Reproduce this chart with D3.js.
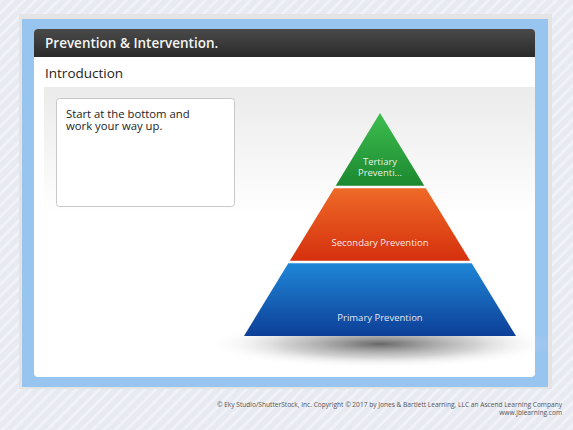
<!DOCTYPE html>
<html>
<head>
<meta charset="utf-8">
<script src="https://cdn.jsdelivr.net/npm/d3@7"></script>
<style>
  html, body { margin: 0; padding: 0; background: #e9ebf2; }
  svg { display: block; font-family: "Open Sans", "Noto Sans", sans-serif; }
</style>
</head>
<body>
<div id="chart"></div>
<script>
// pyramid tiers, bottom to top
const tiers = ["Primary", "Secondary", "Tertiary"];
const tierLabels = [["Primary Prevention"], ["Secondary Prevention"], ["Tertiary", "Preventi..."]];
const tierTop = ["#1f86d6", "#ee6a27", "#3dbe4f"];
const tierBottom = ["#0d3f98", "#d5300d", "#1d8830"];

const headerTitle = "Prevention & Intervention.";
const sectionTitle = "Introduction";
const noteLines = ["Start at the bottom and", "work your way up."];
const footerLines = [
  "\u00a9 Eky Studio/ShutterStock, Inc. Copyright \u00a9 2017 by Jones & Bartlett Learning, LLC an Ascend Learning Company",
  "www.jblearning.com"
];

const width = 573, height = 430;

const svg = d3.select("#chart").append("svg")
  .attr("width", width)
  .attr("height", height);

const defs = svg.append("defs");

// striped page background
const stripes = defs.append("pattern")
  .attr("id", "stripes")
  .attr("width", 8).attr("height", 8)
  .attr("patternUnits", "userSpaceOnUse")
  .attr("patternTransform", "rotate(45)");
stripes.append("rect").attr("width", 8).attr("height", 8).attr("fill", "#e8eaf1");
stripes.append("rect").attr("width", 3).attr("height", 8).attr("fill", "#f1f2f7");

const headGrad = defs.append("linearGradient").attr("id", "head").attr("x1", 0).attr("x2", 0).attr("y1", 0).attr("y2", 1);
headGrad.append("stop").attr("offset", "0%").attr("stop-color", "#4a4a4a");
headGrad.append("stop").attr("offset", "100%").attr("stop-color", "#2a2a2a");

const contentGrad = defs.append("linearGradient").attr("id", "content").attr("x1", 0).attr("x2", 0).attr("y1", 0).attr("y2", 1);
contentGrad.append("stop").attr("offset", "0%").attr("stop-color", "#ebebeb");
contentGrad.append("stop").attr("offset", "45%").attr("stop-color", "#ffffff");

const shadowGrad = defs.append("radialGradient").attr("id", "shadow");
shadowGrad.append("stop").attr("offset", "0%").attr("stop-color", "#555").attr("stop-opacity", 0.9);
shadowGrad.append("stop").attr("offset", "55%").attr("stop-color", "#999").attr("stop-opacity", 0.45);
shadowGrad.append("stop").attr("offset", "100%").attr("stop-color", "#ffffff").attr("stop-opacity", 0);

tiers.forEach((t, i) => {
  const g = defs.append("linearGradient").attr("id", "tier-" + t).attr("x1", 0).attr("x2", 0).attr("y1", 0).attr("y2", 1);
  g.append("stop").attr("offset", "0%").attr("stop-color", tierTop[i]);
  g.append("stop").attr("offset", "100%").attr("stop-color", tierBottom[i]);
});

svg.append("rect").attr("width", width).attr("height", height).attr("fill", "url(#stripes)");

// slide frame
svg.append("rect").attr("x", 19).attr("y", 14).attr("width", 533).attr("height", 375).attr("fill", "#e4e4e4");
svg.append("rect").attr("x", 22).attr("y", 19).attr("width", 526).attr("height", 368).attr("fill", "#98c4f0");
svg.append("rect").attr("x", 34).attr("y", 29).attr("width", 501).attr("height", 348).attr("rx", 4).attr("fill", "#ffffff");
svg.append("path")
  .attr("d", "M34,57 V33 Q34,29 38,29 H531 Q535,29 535,33 V57 Z")
  .attr("fill", "url(#head)");

svg.append("text")
  .attr("x", 45).attr("y", 48)
  .attr("fill", "#f4f4f4")
  .style("font-size", "13.5px")
  .style("font-weight", 600)
  .text(headerTitle);

svg.append("text")
  .attr("x", 45).attr("y", 78)
  .attr("fill", "#222")
  .style("font-size", "13.5px")
  .text(sectionTitle);

svg.append("rect").attr("x", 44).attr("y", 87).attr("width", 491).attr("height", 288).attr("fill", "url(#content)");

// note box
svg.append("rect")
  .attr("x", 56.5).attr("y", 98.5).attr("width", 178).attr("height", 108).attr("rx", 3)
  .attr("fill", "#fff").attr("stroke", "#c8c8c8");
svg.append("g").selectAll("text")
  .data(noteLines)
  .join("text")
  .attr("x", 66)
  .attr("y", (d, i) => 117.5 + i * 12.5)
  .attr("fill", "#222")
  .style("font-size", "11.3px")
  .text(d => d);

// pyramid
const apexX = 380, apexY = 113, baseY = 336, halfBase = 136;
const y = d3.scaleBand()
  .domain(tiers)
  .range([baseY, apexY])
  .paddingInner(0.034);
const halfW = d3.scaleLinear().domain([apexY, baseY]).range([0, halfBase]);

svg.append("ellipse")
  .attr("cx", apexX).attr("cy", baseY + 8)
  .attr("rx", 175).attr("ry", 24)
  .attr("fill", "url(#shadow)");

const tier = svg.append("g").selectAll("g")
  .data(tiers)
  .join("g");

tier.append("path")
  .attr("d", d => {
    const top = y(d), bot = y(d) + y.bandwidth();
    const wt = halfW(top), wb = halfW(bot);
    return `M${apexX - wt},${top} L${apexX + wt},${top} L${apexX + wb},${bot} L${apexX - wb},${bot} Z`;
  })
  .attr("fill", d => `url(#tier-${d})`);

tier.each(function (d, i) {
  const lines = tierLabels[i];
  const cy = y(d) + y.bandwidth() * 0.745;
  d3.select(this).selectAll("text")
    .data(lines)
    .join("text")
    .attr("x", apexX)
    .attr("y", (l, j) => cy + 3.3 + (j - (lines.length - 1) / 2) * 11.5)
    .attr("text-anchor", "middle")
    .attr("fill", "#fff")
    .attr("fill-opacity", 0.9)
    .style("font-size", "9.5px")
    .text(l => l);
});

// footer
svg.append("g").selectAll("text")
  .data(footerLines)
  .join("text")
  .attr("x", 562)
  .attr("y", (d, i) => 406.5 + i * 8)
  .attr("text-anchor", "end")
  .attr("fill", "#555")
  .style("font-size", "6.6px")
  .text(d => d);
</script>
</body>
</html>
